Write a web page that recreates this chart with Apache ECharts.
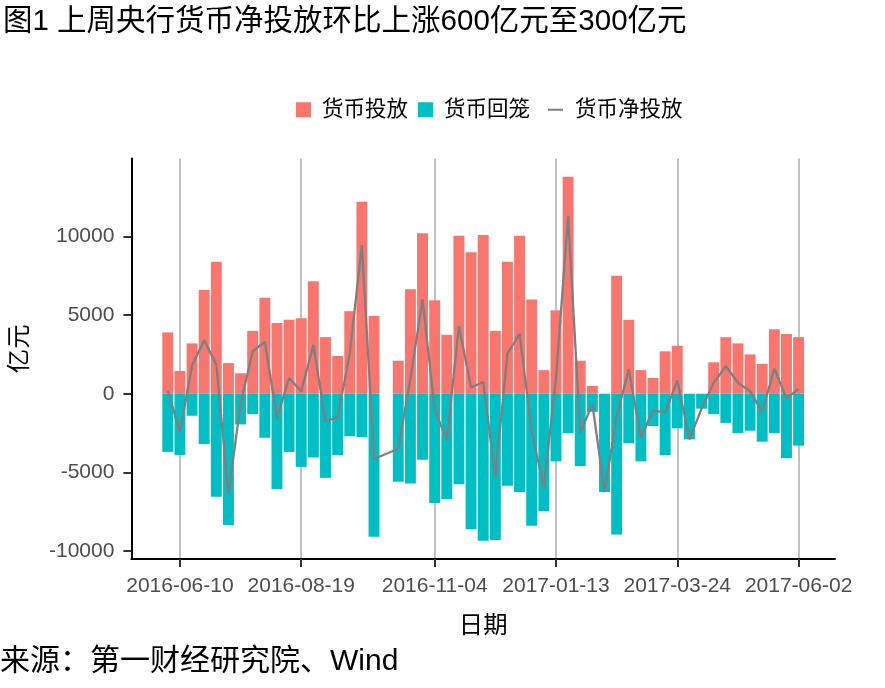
<!DOCTYPE html>
<html><head><meta charset="utf-8">
<script src="https://cdn.jsdelivr.net/npm/echarts@6/dist/echarts.min.js"></script>
<style>html,body{margin:0;padding:0;background:#fff}#c{width:885px;height:688px}</style>
</head><body><div id="c"></div>
<script>
// Weekly dates (Fridays); 2016-10-07 has no data (National Day week)
const dates = ['2016-06-03','2016-06-10','2016-06-17','2016-06-24','2016-07-01','2016-07-08','2016-07-15','2016-07-22','2016-07-29',
  '2016-08-05','2016-08-12','2016-08-19','2016-08-26','2016-09-02','2016-09-09','2016-09-16','2016-09-23','2016-09-30',
  '2016-10-07','2016-10-14','2016-10-21','2016-10-28','2016-11-04','2016-11-11','2016-11-18','2016-11-25',
  '2016-12-02','2016-12-09','2016-12-16','2016-12-23','2016-12-30','2017-01-06','2017-01-13','2017-01-20','2017-01-27',
  '2017-02-03','2017-02-10','2017-02-17','2017-02-24','2017-03-03','2017-03-10','2017-03-17','2017-03-24','2017-03-31',
  '2017-04-07','2017-04-14','2017-04-21','2017-04-28','2017-05-05','2017-05-12','2017-05-19','2017-05-26','2017-06-02'];

// 货币投放 (亿元)
const injection = [3900,1450,3200,6600,8400,1950,1300,4000,6100,4500,4700,4800,7150,3600,2400,5250,12200,4950,null,
  2100,6650,10200,5950,3750,10050,9000,10100,4000,8400,10050,6000,1500,5300,13800,2100,500,0,7500,4700,1500,1000,
  2700,3050,0,0,2000,3600,3200,2500,1900,4100,3800,3600];

// 货币回笼 (亿元)
const withdrawal = [-3700,-3900,-1400,-3200,-6550,-8350,-1950,-1300,-2800,-6050,-3700,-4650,-4050,-5350,-3900,-2700,-2750,-9100,null,
  -5600,-5700,-4200,-6950,-6700,-5750,-8600,-9350,-9300,-5850,-6250,-8400,-7450,-4300,-2500,-4600,-1150,-6250,-8950,-3150,-4300,-2050,
  -3900,-2200,-2900,-950,-1300,-1850,-2500,-2350,-3050,-2500,-4100,-3300];

// 货币净投放 (亿元)
const netInjection = [200,-2450,1800,3400,1850,-6400,-650,2700,3300,-1550,1000,150,3100,-1750,-1500,2550,9450,-4150,null,
  -3500,950,6000,-1000,-2950,4300,400,750,-5300,2550,3800,-2400,-5950,1000,11300,-2500,-650,-6250,-1450,1550,-2800,-1050,
  -1200,850,-2900,-950,700,1750,700,150,-1150,1600,-300,300];

const xTickLabels = ['2016-06-10','2016-08-19','2016-11-04','2017-01-13','2017-03-24','2017-06-02'];
const yTicks = [-10000,-5000,0,5000,10000];

const titleText = '图1 上周央行货币净投放环比上涨600亿元至300亿元';
const captionText = '来源：第一财经研究院、Wind';
const seriesNames = ['货币投放','货币回笼','货币净投放'];

const FONT = "'Liberation Sans','Noto Sans CJK SC',sans-serif";
const padL = ['_l1','_l2','_l3'], padR = ['_r1','_r2','_r3'];
const cats = padL.concat(dates, padR);
const padData = arr => padL.map(() => null).concat(arr, padR.map(() => null));
const isTick = (i, v) => xTickLabels.indexOf(v) >= 0;

const chart = echarts.init(document.getElementById('c'), null, {renderer: 'canvas'});
chart.setOption({
  animation: false,
  backgroundColor: '#fff',
  textStyle: {fontFamily: FONT},
  title: [
    {text: titleText, left: 3, top: 7, padding: 0,
     textStyle: {fontSize: 29.5, fontWeight: 'normal', color: '#000', fontFamily: FONT}},
    {text: captionText, left: 0, top: 647, padding: 0,
     textStyle: {fontSize: 30, fontWeight: 'normal', color: '#000', fontFamily: FONT}}
  ],
  legend: [
    {data: [seriesNames[0], seriesNames[1]], left: 296, top: 99, padding: 0, orient: 'horizontal',
     itemWidth: 15, itemHeight: 15, itemGap: 10, icon: 'rect',
     textStyle: {fontSize: 21.5, color: '#000', fontFamily: FONT, padding: [0, 0, 0, 6]}},
    {data: [{name: seriesNames[2], icon: 'path://M0,0h15v2h-15z', itemStyle: {color: '#7F7F7F'}}],
     left: 548, top: 99, padding: 0, itemWidth: 15, itemHeight: 15,
     textStyle: {fontSize: 21.5, color: '#000', fontFamily: FONT, padding: [0, 0, 0, 7]}}
  ],
  grid: {left: 128, right: 50, top: 158.5, height: 400.5, containLabel: false},
  xAxis: {
    type: 'category', data: cats, boundaryGap: false,
    axisLine: {show: true, onZero: false, lineStyle: {color: '#000', width: 2}},
    axisTick: {show: true, length: 8, interval: isTick, lineStyle: {color: '#333', width: 2}},
    axisLabel: {interval: isTick, margin: 17, fontSize: 21, color: '#4D4D4D', fontFamily: FONT},
    splitLine: {show: true, interval: isTick, lineStyle: {color: '#B3B3B3', width: 1.6}},
    name: '日期', nameLocation: 'middle', nameGap: 55,
    nameTextStyle: {fontSize: 24.4, color: '#000', fontFamily: FONT}
  },
  yAxis: {
    type: 'value', min: -10508, max: 14958,
    axisLine: {show: true, lineStyle: {color: '#000', width: 2}},
    axisTick: {show: true, length: 8, customValues: yTicks, lineStyle: {color: '#333', width: 2}},
    axisLabel: {customValues: yTicks, margin: 17, fontSize: 21, color: '#4D4D4D', fontFamily: FONT,
                formatter: v => String(v)},
    splitLine: {show: false},
    name: '亿元', nameLocation: 'middle', nameGap: 99,
    nameTextStyle: {fontSize: 24.4, color: '#000', fontFamily: FONT, padding: [0, 0, 0, 20]}
  },
  series: [
    {name: seriesNames[0], type: 'bar', data: padData(injection), barWidth: '90%', barGap: '-100%',
     itemStyle: {color: '#F8766D'}},
    {name: seriesNames[1], type: 'bar', data: padData(withdrawal), barWidth: '90%', barGap: '-100%',
     itemStyle: {color: '#00BFC4'}},
    {name: seriesNames[2], type: 'line', data: padData(netInjection), symbol: 'none', showSymbol: false,
     connectNulls: true, z: 5, lineStyle: {color: '#7F7F7F', width: 2.3}, itemStyle: {color: '#7F7F7F'}}
  ]
});
</script>
</body></html>
